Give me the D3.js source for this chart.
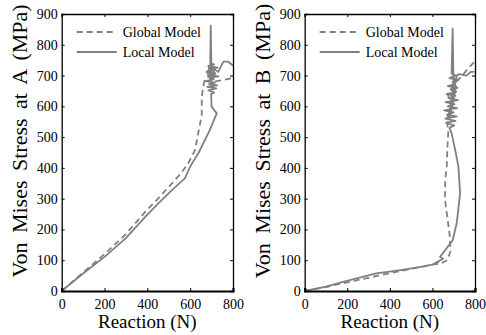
<!DOCTYPE html>
<html><head><meta charset="utf-8">
<script src="https://cdn.jsdelivr.net/npm/d3@7"></script>
</head>
<body style="margin:0;background:#fff">
<svg id="c" width="486" height="335"></svg>
<script>
const xTicks = [0, 200, 400, 600, 800];
const yTicks = [0, 100, 200, 300, 400, 500, 600, 700, 800, 900];
const seriesNames = ["Global Model", "Local Model"];
const xTitle = "Reaction (N)";
const yTitles = ["Von Mises Stress at A (MPa)", "Von Mises Stress at B (MPa)"];

// Panel A
const reactionA_global = [0,100,200,300,390,450,515,560,591,623,654,654,660,668,690,672,700,685,695,708,750,801];
const stressA_global   = [0,60,120,185,257,300,350,385,415,458,572,631,660,687,700,712,722,735,690,680,685,692];
const reactionA_local = [0,100,200,300,390,450,515,575,600,640,690,724,700,698,712,685,722,680,726,688,716,672,710,690,732,684,718,676,706,694,728,686,712,700,693,696,700,716,705,731,755,778,801];
const stressA_local   = [0,57,111,172,241,284,328,366,404,450,520,577,599,640,645,652,658,663,668,672,677,682,688,693,697,702,707,712,717,722,726,731,736,740,700,862,690,705,725,712,745,745,732];

// Panel B
const reactionB_global = [0,100,200,300,400,500,560,600,640,670,685,682,670,659,660,667,670,674,668,690,672,700,740,770,798];
const stressB_global   = [0,13,28,43,58,72,80,86,90,100,130,176,240,296,360,404,460,512,560,600,640,670,700,725,745];
const reactionB_local = [0,100,180,336,450,560,600,630,610,650,636,695,714,730,722,707,690,680,702,664,708,660,714,668,700,655,716,672,704,662,720,676,708,666,712,686,718,672,704,694,722,680,710,690,695,700,688,712,684,704,676,715,725,760,780,798];
const stressB_local   = [0,14,30,57,68,80,86,95,90,105,111,165,220,317,404,458,512,530,538,546,553,560,567,573,580,587,594,600,607,614,620,627,634,640,647,654,660,666,672,679,686,692,700,706,853,640,600,665,575,690,560,700,705,700,712,712];

const SERIF = "Liberation Serif";
const panels = [
  {x0:61.7, x1:233, title:yTitles[0], gx:reactionA_global, gy:stressA_global, lx:reactionA_local, ly:stressA_local, titleX:27},
  {x0:304.7, x1:475, title:yTitles[1], gx:reactionB_global, gy:stressB_global, lx:reactionB_local, ly:stressB_local, titleX:270}
];
const yTop = 14, yBot = 291;
const col = "#808080";
const svg = d3.select("#c");

panels.forEach((p,pi) => {
  const x = d3.scaleLinear().domain([0,800]).range([p.x0,p.x1]);
  const y = d3.scaleLinear().domain([0,900]).range([yBot,yTop]);
  const g = svg.append("g");
  const line = d3.line().x(d=>x(d[0])).y(d=>y(d[1]));
  const clip = "clip"+pi;
  svg.append("clipPath").attr("id",clip).append("rect")
    .attr("x",p.x0).attr("y",yTop).attr("width",p.x1-p.x0).attr("height",yBot-yTop);
  const dg = g.append("g").attr("clip-path","url(#"+clip+")");
  dg.append("path").datum(d3.zip(p.gx,p.gy)).attr("d",line)
    .attr("fill","none").attr("stroke",col).attr("stroke-width",1.8).attr("stroke-dasharray","6,4");
  dg.append("path").datum(d3.zip(p.lx,p.ly)).attr("d",line)
    .attr("fill","none").attr("stroke",col).attr("stroke-width",1.8).attr("stroke-linejoin","round");

  const ax = g.append("g").attr("transform",`translate(0,${yBot})`)
    .call(d3.axisBottom(x).tickValues(xTicks).tickSize(-3).tickPadding(8));
  const axT = g.append("g").attr("transform",`translate(0,${yTop})`)
    .call(d3.axisTop(x).tickValues(xTicks).tickSize(-3).tickFormat(""));
  const ay = g.append("g").attr("transform",`translate(${p.x0},0)`)
    .call(d3.axisLeft(y).tickValues(yTicks).tickSize(-3).tickPadding(4));
  const ayR = g.append("g").attr("transform",`translate(${p.x1},0)`)
    .call(d3.axisRight(y).tickValues(yTicks).tickSize(-3).tickFormat(""));
  [ax,axT,ay,ayR].forEach(a=>{
    a.attr("font-family",SERIF);
    a.select(".domain").attr("stroke","#000").attr("stroke-width",1.3);
    a.selectAll(".tick line").attr("stroke","#000");
    a.selectAll("text").style("font-family",SERIF).attr("font-size",14).attr("fill","#000");
  });
  ax.select(".domain").attr("stroke-width",2.2);

  g.append("text").attr("x",(p.x0+p.x1)/2).attr("y",328).attr("text-anchor","middle")
    .style("font-family",SERIF).attr("font-size",19).text(xTitle);
  g.append("text").attr("transform",`translate(${p.titleX},141) rotate(-90)`)
    .attr("text-anchor","middle").style("font-family",SERIF).style("word-spacing","4px")
    .attr("font-size",22).text(p.title);

  const lg = g.append("g");
  [0,1].forEach(i=>{
    const yy = 32 + i*20;
    lg.append("line").attr("x1",p.x0+15).attr("x2",p.x0+55).attr("y1",yy).attr("y2",yy)
      .attr("stroke",col).attr("stroke-width",1.8).attr("stroke-dasharray", i===0?"6,4":null);
    lg.append("text").attr("x",p.x0+61).attr("y",yy+5).style("font-family",SERIF)
      .attr("font-size",14).text(seriesNames[i]);
  });
});
</script>
</body></html>
